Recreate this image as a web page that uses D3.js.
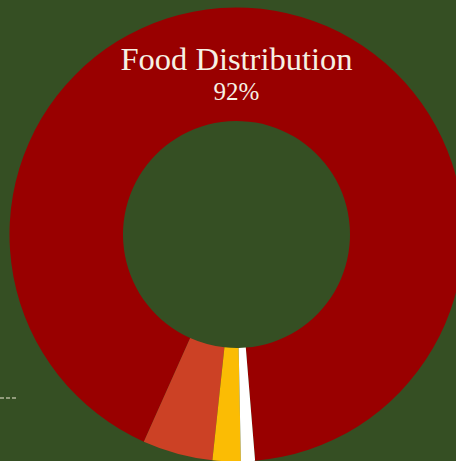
<!DOCTYPE html>
<html>
<head>
<meta charset="utf-8">
<script src="https://cdn.jsdelivr.net/npm/d3@7"></script>
<style>
  html, body { margin: 0; padding: 0; background: #354f23; overflow: hidden; }
  svg { display: block; }
</style>
</head>
<body>
<div id="chart"></div>
<script>
// Data
const categories = ["Food Distribution", "Category B", "Category C", "Category D"];
const values = [92, 5, 2, 1];
const colors = ["#990000", "#cc4125", "#fbbc04", "#ffffff"];

const W = 456, H = 461;
const cx = 236.5, cy = 234.5;
const outerR = 227, innerR = 113.5;

const svg = d3.select("#chart").append("svg")
  .attr("width", W).attr("height", H);

svg.append("rect").attr("width", W).attr("height", H).attr("fill", "#354f23");

const data = categories.map((c, i) => ({ name: c, value: values[i], color: colors[i] }));

const startAng = 175.3 * Math.PI / 180;
const pie = d3.pie().value(d => d.value).sort(null)
  .startAngle(startAng).endAngle(startAng - 2 * Math.PI);

const arc = d3.arc().innerRadius(innerR).outerRadius(outerR);

const g = svg.append("g").attr("transform", `translate(${cx},${cy})`);

g.selectAll("path").data(pie(data)).enter().append("path")
  .attr("d", arc)
  .attr("fill", d => d.data.color);

// leader line remnant at left
svg.append("line")
  .attr("x1", 0).attr("x2", 16).attr("y1", 398).attr("y2", 398)
  .attr("stroke", "#efe9d6").attr("stroke-width", 1.2)
  .attr("stroke-dasharray", "4,2");

// label for largest slice
const main = data[0];
const labelG = svg.append("g").attr("transform", `translate(${cx},0)`);
labelG.append("text")
  .attr("x", 0).attr("y", 70)
  .attr("text-anchor", "middle")
  .attr("font-family", "'Liberation Serif', 'DejaVu Serif', serif")
  .attr("font-size", 32.5)
  .attr("fill", "#f6f1e4")
  .text(main.name);
labelG.append("text")
  .attr("x", 0).attr("y", 100)
  .attr("text-anchor", "middle")
  .attr("font-family", "'Liberation Serif', 'DejaVu Serif', serif")
  .attr("font-size", 25)
  .attr("fill", "#f6f1e4")
  .text(main.value + "%");
</script>
</body>
</html>
